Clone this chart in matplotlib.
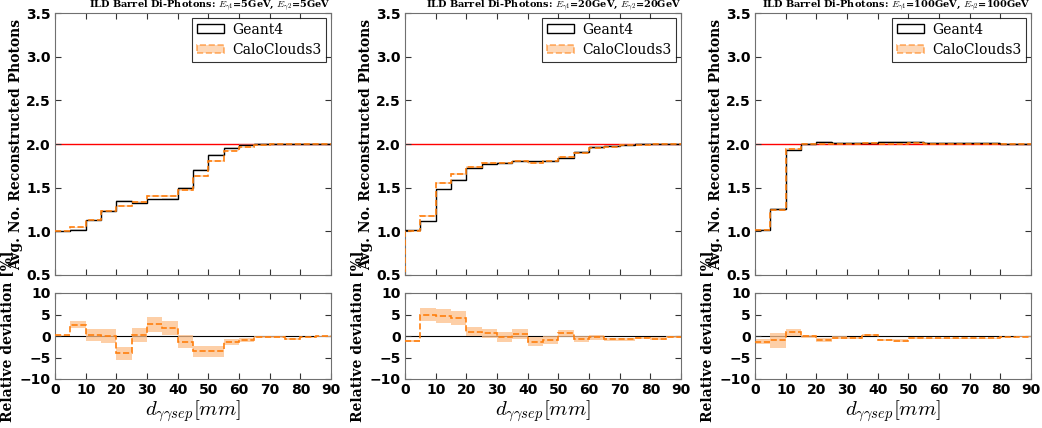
import numpy as np
import matplotlib
matplotlib.use('Agg')
import matplotlib.pyplot as plt
import matplotlib.patches as mpatches

# bin edges in mm
edges = np.arange(0, 95, 5)

energies = [5, 20, 100]

# average number of reconstructed photons per bin
g4_5 = [1.0, 1.015, 1.125, 1.23, 1.345, 1.33, 1.365, 1.37, 1.495, 1.70,
        1.87, 1.955, 1.985, 2.0, 2.0, 2.0, 2.0, 2.0]
cc_5 = [1.0, 1.045, 1.125, 1.23, 1.29, 1.335, 1.40, 1.40, 1.475, 1.635,
        1.805, 1.925, 1.96, 1.985, 1.995, 2.0, 2.0, 2.0]
g4_20 = [1.01, 1.115, 1.48, 1.585, 1.72, 1.775, 1.78, 1.80, 1.80, 1.81,
         1.84, 1.905, 1.96, 1.975, 1.99, 1.995, 1.995, 2.0]
cc_20 = [1.005, 1.175, 1.55, 1.655, 1.735, 1.785, 1.78, 1.81, 1.78, 1.80,
         1.85, 1.895, 1.955, 1.97, 1.985, 1.99, 1.995, 2.0]
g4_100 = [1.02, 1.26, 1.93, 2.005, 2.02, 2.01, 2.01, 2.01, 2.02, 2.02,
          2.02, 2.015, 2.015, 2.015, 2.015, 2.01, 2.005, 2.0]
cc_100 = [1.01, 1.24, 1.945, 2.0, 2.0, 2.005, 2.005, 2.01, 2.0, 2.0,
          2.01, 2.005, 2.005, 2.005, 2.005, 2.005, 2.0, 2.0]

# relative deviation [%] and its uncertainty
dev_5 = [0.2, 2.6, 0.3, 0.0, -4.0, 0.3, 2.7, 1.9, -1.3, -3.6,
         -3.6, -1.5, -1.0, -0.2, -0.2, -0.6, -0.3, -0.1]
dev_err_5 = [0.1, 0.8, 1.4, 1.7, 1.5, 1.6, 1.7, 1.6, 1.5, 1.3,
             1.3, 0.7, 0.5, 0.3, 0.2, 0.25, 0.15, 0.1]
dev_20 = [-1.1, 5.0, 4.6, 4.2, 1.0, 0.6, -0.2, 0.5, -1.3, -0.9,
          0.6, -0.7, -0.3, -0.8, -0.8, -0.4, -0.6, -0.2]
dev_err_20 = [0.2, 1.5, 1.6, 1.6, 1.1, 1.1, 1.1, 1.1, 1.1, 1.0,
              0.8, 0.8, 0.55, 0.45, 0.35, 0.25, 0.3, 0.2]
dev_100 = [-1.3, -1.0, 0.9, -0.1, -1.0, -0.4, -0.5, 0.2, -1.0, -1.1,
           -0.4, -0.5, -0.5, -0.5, -0.5, -0.5, -0.3, -0.2]
dev_err_100 = [0.6, 1.7, 0.8, 0.25, 0.5, 0.3, 0.3, 0.15, 0.25, 0.3,
               0.2, 0.15, 0.15, 0.15, 0.15, 0.15, 0.15, 0.1]

g4_all = [g4_5, g4_20, g4_100]
cc_all = [cc_5, cc_20, cc_100]
dev_all = [dev_5, dev_20, dev_100]
dev_err_all = [dev_err_5, dev_err_20, dev_err_100]

ORANGE = '#ff7f0e'
BAND = '#fdbf8a'
SPINE = '#707070'
serif = 'DejaVu Serif'

plt.rcParams['mathtext.fontset'] = 'cm'

fig = plt.figure(figsize=(10.42, 4.28), dpi=100)

lefts = [55, 405, 755]
W, H = 1042.0, 428.0


def style_axes(ax):
    for sp in ax.spines.values():
        sp.set_color(SPINE)
    ax.tick_params(direction='in', top=True, right=True, length=4,
                   width=0.8, color='#333333', labelsize=10, pad=3)
    for lab in ax.get_xticklabels() + ax.get_yticklabels():
        lab.set_fontweight('bold')


for i, E in enumerate(energies):
    g4 = np.array(g4_all[i])
    cc = np.array(cc_all[i])
    dev = np.array(dev_all[i])
    derr = np.array(dev_err_all[i])

    ax = fig.add_axes([lefts[i] / W, 1 - 275 / H, 276 / W, 262 / H])
    rx = fig.add_axes([lefts[i] / W, 1 - 379 / H, 276 / W, 86 / H])

    # upper panel
    ax.axhline(2.0, color='red', lw=1, zorder=1)
    g4_band = g4 * 0.006
    cc_band = cc * derr / 200.0
    ax.stairs(g4 + g4_band, edges, baseline=g4 - g4_band, fill=True,
              color='#bbbbbb', alpha=0.5, lw=0, zorder=2)
    ax.stairs(cc + cc_band, edges, baseline=cc - cc_band, fill=True,
              color=BAND, alpha=0.5, lw=0, zorder=2)
    ax.stairs(g4, edges, baseline=None, color='black', lw=1, zorder=3)
    if E == 20:
        # step rises from below the axis at the first edge
        ax.stairs(np.r_[0, cc], np.r_[-5, edges], baseline=None,
                  color=ORANGE, lw=1.2, ls='--', zorder=4)
    else:
        ax.stairs(cc, edges, baseline=None, color=ORANGE, lw=1.2, ls='--',
                  zorder=4)
    ax.set_xlim(0, 90)
    ax.set_ylim(0.5, 3.5)
    ax.set_xticks(np.arange(0, 100, 10))
    ax.set_xticklabels([])
    ax.set_yticks(np.arange(0.5, 3.51, 0.5))
    ax.set_ylabel('Avg. No. Reconstructed Photons', family=serif,
                  fontweight='bold', fontsize=10)
    ax.yaxis.set_label_coords(-0.115, 0.5)
    ax.set_title(r'ILD Barrel Di-Photons: $E_{\gamma1}$=%dGeV, $E_{\gamma2}$=%dGeV'
                 % (E, E), loc='right', family=serif, fontweight='bold',
                 fontsize=7, pad=2)
    h1 = mpatches.Patch(facecolor='none', edgecolor='black', lw=1,
                        label='Geant4')
    h2 = mpatches.Patch(facecolor=BAND, alpha=0.6, edgecolor=ORANGE, lw=1.2,
                        ls='--', label='CaloClouds3')
    leg = ax.legend(handles=[h1, h2], loc='upper right', fancybox=False,
                    prop={'family': serif, 'size': 10},
                    handlelength=1.9, handleheight=0.6, borderpad=0.35,
                    labelspacing=0.45, borderaxespad=0.35, handletextpad=0.6)
    leg.get_frame().set_edgecolor('black')
    leg.get_frame().set_linewidth(0.8)
    style_axes(ax)

    # lower panel
    rx.axhline(0, color='black', lw=0.8, zorder=1)
    rx.stairs(dev + derr, edges, baseline=dev - derr, fill=True,
              color=BAND, alpha=0.75, lw=0, zorder=2)
    rx.stairs(dev, edges, baseline=None, color=ORANGE, lw=1.2, ls='--',
              zorder=3)
    rx.set_xlim(0, 90)
    rx.set_ylim(-10, 10)
    rx.set_xticks(np.arange(0, 100, 10))
    rx.set_yticks([-10, -5, 0, 5, 10])
    rx.set_ylabel('Relative deviation [%]', family=serif, fontweight='bold',
                  fontsize=10)
    rx.yaxis.set_label_coords(-0.148, 0.5)
    rx.set_xlabel(r'$d_{\gamma\gamma sep} [mm]$', fontsize=15, labelpad=1)
    style_axes(rx)

fig.savefig('out.png', dpi=100)
